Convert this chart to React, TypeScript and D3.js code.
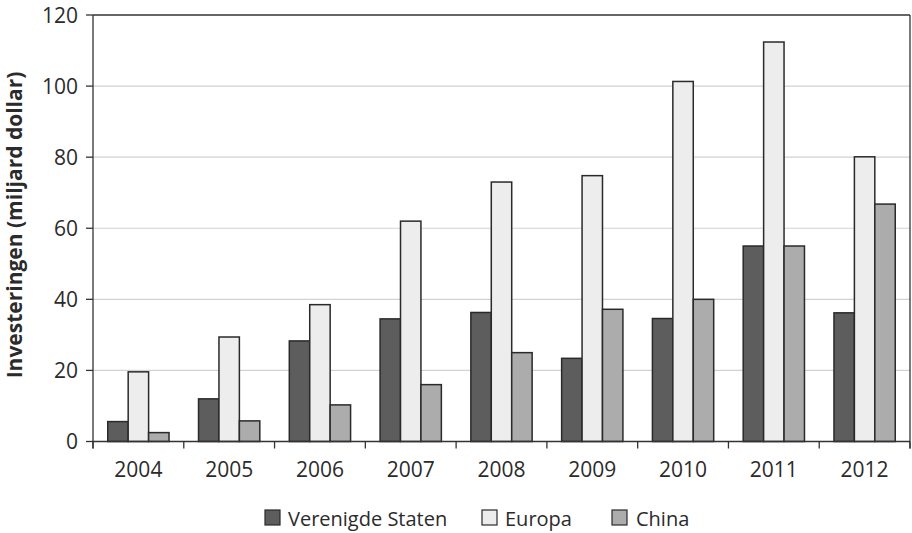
import React from "react";
import * as d3 from "d3";

// Investments per region, billions of dollars
const years = ["2004", "2005", "2006", "2007", "2008", "2009", "2010", "2011", "2012"];
const seriesNames = ["Verenigde Staten", "Europa", "China"];
const verenigdeStaten = [5.6, 12.0, 28.3, 34.5, 36.3, 23.4, 34.6, 55.0, 36.2];
const europa = [19.6, 29.4, 38.5, 62.0, 73.0, 74.8, 101.3, 112.4, 80.1];
const china = [2.5, 5.8, 10.3, 16.0, 25.0, 37.2, 40.0, 55.0, 66.8];
const yTicks = [0, 20, 40, 60, 80, 100, 120];

const seriesValues = [verenigdeStaten, europa, china];
const fills = ["#5d5d5d", "#ededed", "#acacac"];

const W = 912;
const H = 533;
const margin = { left: 93, right: 2, top: 15, bottom: 91.5 };
const FONT = "'Open Sans', sans-serif";

export default function App() {
  const innerW = W - margin.left - margin.right;
  const innerH = H - margin.top - margin.bottom;

  const x = d3.scaleBand<string>().domain(years).range([0, innerW]).paddingInner(0).paddingOuter(0);
  const groupW = x.bandwidth() * 0.675;
  const xs = d3
    .scaleBand<number>()
    .domain(d3.range(seriesNames.length))
    .range([0, groupW]);
  const groupOffset = (x.bandwidth() - groupW) / 2;

  const y = d3.scaleLinear().domain([0, 120]).range([innerH, 0]);

  const boundaries = d3.range(years.length + 1).map((i) => i * x.step());

  const legendItems = [
    { box: 265, text: 288 },
    { box: 482, text: 505 },
    { box: 612, text: 636 },
  ];

  return (
    <svg
      width={W}
      height={H}
      style={{ position: "absolute", left: 0, top: 0, background: "#fff" }}
      fontFamily={FONT}
    >
      <g transform={`translate(${margin.left},${margin.top})`}>
        {/* gridlines */}
        {yTicks
          .filter((t) => t > 0 && t < 120)
          .map((t) => (
            <line key={t} x1={0} x2={innerW} y1={y(t)} y2={y(t)} stroke="#d2d2d2" strokeWidth={1.2} />
          ))}

        {/* bars */}
        {years.map((yr, i) => (
          <g key={yr} transform={`translate(${(x(yr) ?? 0) + groupOffset},0)`}>
            {seriesValues.map((vals, s) => (
              <rect
                key={s}
                x={xs(s) ?? 0}
                y={y(vals[i])}
                width={xs.bandwidth()}
                height={innerH - y(vals[i])}
                fill={fills[s]}
                stroke="#2a2a2a"
                strokeWidth={1.5}
              />
            ))}
          </g>
        ))}

        {/* plot frame */}
        <line x1={0} x2={innerW} y1={0} y2={0} stroke="#333" strokeWidth={1.3} />
        <line x1={innerW} x2={innerW} y1={0} y2={innerH + 7} stroke="#333" strokeWidth={1.3} />
        <line x1={0} x2={0} y1={0} y2={innerH + 7} stroke="#333" strokeWidth={1.3} />
        <line x1={0} x2={innerW} y1={innerH} y2={innerH} stroke="#333" strokeWidth={1.3} />

        {/* y ticks */}
        {yTicks.map((t) => (
          <g key={t} transform={`translate(0,${y(t)})`}>
            <line x1={-7} x2={0} stroke="#333" strokeWidth={1.3} />
            <text x={-15} dy="0.36em" textAnchor="end" fontSize={21} fill="#2b2b2b">
              {t}
            </text>
          </g>
        ))}

        {/* x ticks */}
        {boundaries.map((b, i) => (
          <line key={i} x1={b} x2={b} y1={innerH} y2={innerH + 7} stroke="#333" strokeWidth={1.3} />
        ))}
        {years.map((yr) => (
          <text
            key={yr}
            x={(x(yr) ?? 0) + x.bandwidth() / 2}
            y={innerH + 35}
            textAnchor="middle"
            fontSize={21}
            fill="#2b2b2b"
          >
            {yr}
          </text>
        ))}
      </g>

      {/* y axis title */}
      <text
        transform={`translate(22,225) rotate(-90)`}
        textAnchor="middle"
        fontSize={21}
        fontWeight="bold"
        fill="#2b2b2b"
      >
        Investeringen (miljard dollar)
      </text>

      {/* legend */}
      {seriesNames.map((name, s) => (
        <g key={name}>
          <rect
            x={legendItems[s].box}
            y={510}
            width={15}
            height={15}
            fill={fills[s]}
            stroke="#2a2a2a"
            strokeWidth={1.2}
          />
          <text x={legendItems[s].text} y={525.5} fontSize={20} fill="#2b2b2b">
            {name}
          </text>
        </g>
      ))}
    </svg>
  );
}
